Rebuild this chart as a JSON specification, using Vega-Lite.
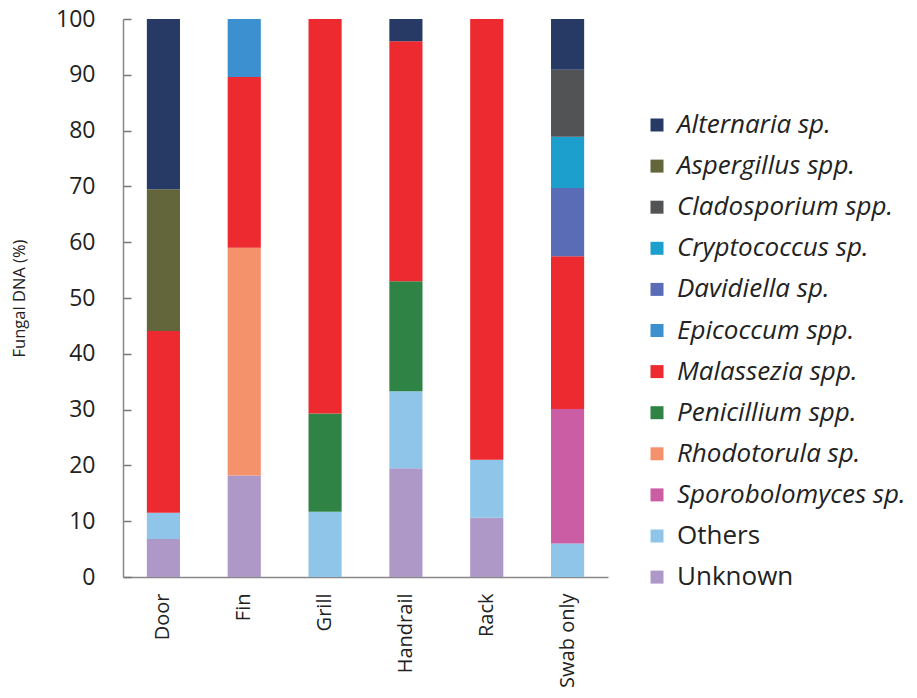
{
  "$schema": "https://vega.github.io/schema/vega-lite/v6.json",
  "width": 485,
  "height": 558,
  "autosize": "none",
  "padding": {"left": 123, "top": 19, "right": 309, "bottom": 121},
  "background": "white",
  "config": {
    "font": "Open Sans",
    "view": {"stroke": null},
    "axis": {"grid": false, "domainColor": "#888888", "tickColor": "#888888", "labelColor": "#222222", "titleColor": "#222222", "labelFont": "Open Sans", "titleFont": "Open Sans", "titleFontWeight": "normal"}
  },
  "data": {
    "values": [
      {"site": "Door", "taxon": "Unknown", "rank": 1, "value": 6.8},
      {"site": "Door", "taxon": "Others", "rank": 2, "value": 4.7},
      {"site": "Door", "taxon": "Malassezia spp.", "rank": 6, "value": 32.6},
      {"site": "Door", "taxon": "Aspergillus spp.", "rank": 11, "value": 25.4},
      {"site": "Door", "taxon": "Alternaria sp.", "rank": 12, "value": 30.5},
      {"site": "Fin", "taxon": "Unknown", "rank": 1, "value": 18.2},
      {"site": "Fin", "taxon": "Rhodotorula sp.", "rank": 4, "value": 40.8},
      {"site": "Fin", "taxon": "Malassezia spp.", "rank": 6, "value": 30.6},
      {"site": "Fin", "taxon": "Epicoccum spp.", "rank": 7, "value": 10.4},
      {"site": "Grill", "taxon": "Others", "rank": 2, "value": 11.7},
      {"site": "Grill", "taxon": "Penicillium spp.", "rank": 5, "value": 17.6},
      {"site": "Grill", "taxon": "Malassezia spp.", "rank": 6, "value": 70.7},
      {"site": "Handrail", "taxon": "Unknown", "rank": 1, "value": 19.5},
      {"site": "Handrail", "taxon": "Others", "rank": 2, "value": 13.8},
      {"site": "Handrail", "taxon": "Penicillium spp.", "rank": 5, "value": 19.7},
      {"site": "Handrail", "taxon": "Malassezia spp.", "rank": 6, "value": 43.0},
      {"site": "Handrail", "taxon": "Alternaria sp.", "rank": 12, "value": 4.0},
      {"site": "Rack", "taxon": "Unknown", "rank": 1, "value": 10.6},
      {"site": "Rack", "taxon": "Others", "rank": 2, "value": 10.4},
      {"site": "Rack", "taxon": "Malassezia spp.", "rank": 6, "value": 79.0},
      {"site": "Swab only", "taxon": "Others", "rank": 2, "value": 6.0},
      {"site": "Swab only", "taxon": "Sporobolomyces sp.", "rank": 3, "value": 24.1},
      {"site": "Swab only", "taxon": "Malassezia spp.", "rank": 6, "value": 27.4},
      {"site": "Swab only", "taxon": "Davidiella sp.", "rank": 8, "value": 12.2},
      {"site": "Swab only", "taxon": "Cryptococcus sp.", "rank": 9, "value": 9.2},
      {"site": "Swab only", "taxon": "Cladosporium spp.", "rank": 10, "value": 12.0},
      {"site": "Swab only", "taxon": "Alternaria sp.", "rank": 12, "value": 9.1}
    ]
  },
  "mark": {"type": "bar", "opacity": 1},
  "encoding": {
    "x": {
      "field": "site", "type": "nominal", "sort": null,
      "scale": {"paddingInner": 0.59, "paddingOuter": 0.295},
      "axis": {"title": null, "labelAngle": -90, "labelFontSize": 20, "ticks": false, "labelPadding": 16, "labelAlign": "right", "labelBaseline": "middle", "domainWidth": 1.5}
    },
    "y": {
      "field": "value", "type": "quantitative", "stack": "zero",
      "scale": {"domain": [0, 100], "nice": false},
      "axis": {"title": "Fungal DNA (%)", "titleFontSize": 16.5, "values": [0,10,20,30,40,50,60,70,80,90,100], "labelFontSize": 23, "tickSize": -8, "labelPadding": 36, "domainWidth": 1.5, "tickWidth": 1.5, "tickColor": "#777777", "titlePadding": 28}
    },
    "order": {"field": "rank", "type": "quantitative"},
    "color": {
      "field": "taxon", "type": "nominal",
      "scale": {
        "domain": ["Alternaria sp.", "Aspergillus spp.", "Cladosporium spp.", "Cryptococcus sp.", "Davidiella sp.", "Epicoccum spp.", "Malassezia spp.", "Penicillium spp.", "Rhodotorula sp.", "Sporobolomyces sp.", "Others", "Unknown"],
        "range": ["#273a66", "#63653a", "#515355", "#1c9fcd", "#5a6cb5", "#3d90d0", "#ed2a2f", "#2f8445", "#f4926c", "#cb5da4", "#8ec5e9", "#ad98c8"]
      },
      "legend": {
        "title": null, "orient": "none", "legendX": 521, "legendY": 93,
        "symbolType": "square", "symbolSize": 169, "symbolStrokeWidth": 0,
        "labelFontSize": 26, "labelColor": "#222222", "labelOffset": 7,
        "labelFontStyle": {"expr": "datum.label == 'Others' || datum.label == 'Unknown' ? 'normal' : 'italic'"},
        "rowPadding": 15.1, "labelLimit": 400
      }
    }
  }
}
